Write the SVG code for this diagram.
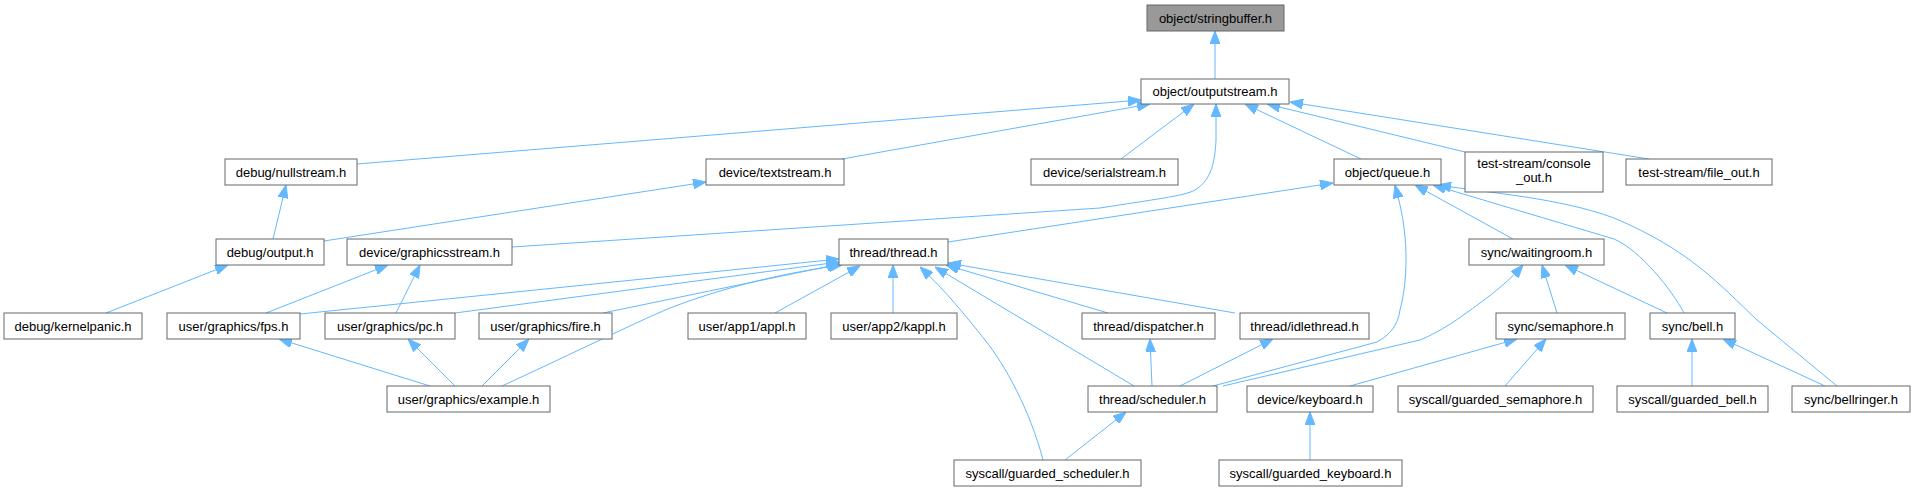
<svg xmlns="http://www.w3.org/2000/svg" width="1915" height="491" viewBox="0 0 1915 491">
<style>
.n rect{fill:#ffffff;stroke:#666666;stroke-width:1}
.n.root rect{fill:#999999}
.n text{font-family:"Liberation Sans",Arial,Helvetica,sans-serif;font-size:13px;fill:#000000;text-anchor:middle}
.e path{fill:none;stroke:#63b8ff;stroke-width:1;marker-end:url(#ah)}
</style>
<defs>
<marker id="ah" markerUnits="userSpaceOnUse" viewBox="0 0 13 10" markerWidth="13" markerHeight="10" refX="13" refY="5" orient="auto">
<path d="M0,0 L13,5 L0,10 z" fill="#63b8ff" stroke="#63b8ff" stroke-width="1"/>
</marker>
</defs>
<rect width="1915" height="491" fill="#ffffff"/>
<g id="edges" class="e">
<path d="M1215,79 L1215,31"/>
<path d="M357,164 L1141,100"/>
<path d="M842,159 L1150,104"/>
<path d="M324,241 L706,182"/>
<path d="M273,239 L286,185"/>
<path d="M106,313 L228,265"/>
<path d="M512,247 L1100,208 C1150,200 1185,196 1195,190 C1212,180 1215,160 1216,140 L1216,104"/>
<path d="M1121,159 L1194,104"/>
<path d="M1361,159 L1245,104"/>
<path d="M1465,152 L1267,104"/>
<path d="M1649,159 L1290,102"/>
<path d="M948,242 L1333,183"/>
<path d="M1213,386 L1377,342 C1390,335 1398,325 1400,310 C1408,280 1408,240 1400,205 L1395,185"/>
<path d="M1223,386 L1420,340 C1440,332 1460,318 1480,303 C1495,292 1510,280 1523,265"/>
<path d="M1513,239 L1415,185"/>
<path d="M1684,313 C1672,290 1640,250 1614,239 L1433,185"/>
<path d="M1837,386 L1757,320 C1720,285 1690,250 1614,218 C1560,198 1490,193 1438,185"/>
<path d="M300,314 L839,259"/>
<path d="M455,313 L839,262"/>
<path d="M603,313 L840,264"/>
<path d="M502,386 C580,350 630,325 670,308 C730,285 790,272 842,265"/>
<path d="M775,313 L860,266"/>
<path d="M893,313 L893,265"/>
<path d="M1043,460 C1030,410 1005,365 985,340 C965,315 945,290 920,267"/>
<path d="M1134,386 L935,267"/>
<path d="M1108,313 L946,265"/>
<path d="M1235,313 L948,263"/>
<path d="M266,313 L388,265"/>
<path d="M396,313 L420,265"/>
<path d="M430,386 L279,339"/>
<path d="M455,386 L408,339"/>
<path d="M482,386 L529,339"/>
<path d="M1152,386 L1150,339"/>
<path d="M1180,386 L1273,339"/>
<path d="M1065,460 L1126,412"/>
<path d="M1350,386 L1517,339"/>
<path d="M1505,386 L1546,339"/>
<path d="M1310,460 L1310,412"/>
<path d="M1557,313 L1542,265"/>
<path d="M1667,313 L1565,265"/>
<path d="M1692,386 L1692,339"/>
<path d="M1825,386 L1723,339"/>
</g>
<g id="stringbuffer" class="n root"><rect x="1147" y="5" width="137" height="26"/><text x="1215.5" y="22.5">object/stringbuffer.h</text></g>
<g id="outputstream" class="n"><rect x="1141" y="79" width="148" height="25"/><text x="1215" y="96">object/outputstream.h</text></g>
<g id="nullstream" class="n"><rect x="225" y="159" width="132" height="26"/><text x="291" y="176.5">debug/nullstream.h</text></g>
<g id="textstream" class="n"><rect x="706" y="159" width="138" height="26"/><text x="775" y="176.5">device/textstream.h</text></g>
<g id="serialstream" class="n"><rect x="1031" y="159" width="147" height="26"/><text x="1104.5" y="176.5">device/serialstream.h</text></g>
<g id="queue" class="n"><rect x="1334" y="159" width="107" height="26"/><text x="1387.5" y="176.5">object/queue.h</text></g>
<g id="console_out" class="n"><rect x="1465" y="152" width="138" height="40"/><text x="1534" y="168">test-stream/console</text><text x="1534" y="182">_out.h</text></g>
<g id="file_out" class="n"><rect x="1626" y="159" width="146" height="26"/><text x="1699" y="176.5">test-stream/file_out.h</text></g>
<g id="output" class="n"><rect x="216" y="239" width="108" height="26"/><text x="270" y="256.5">debug/output.h</text></g>
<g id="graphicsstream" class="n"><rect x="347" y="239" width="165" height="26"/><text x="429.5" y="256.5">device/graphicsstream.h</text></g>
<g id="thread" class="n"><rect x="839" y="239" width="109" height="26"/><text x="893.5" y="256.5">thread/thread.h</text></g>
<g id="waitingroom" class="n"><rect x="1469" y="239" width="135" height="26"/><text x="1536.5" y="256.5">sync/waitingroom.h</text></g>
<g id="kernelpanic" class="n"><rect x="4" y="313" width="138" height="26"/><text x="73" y="330.5">debug/kernelpanic.h</text></g>
<g id="fps" class="n"><rect x="167" y="313" width="133" height="26"/><text x="233.5" y="330.5">user/graphics/fps.h</text></g>
<g id="pc" class="n"><rect x="325" y="313" width="130" height="26"/><text x="390" y="330.5">user/graphics/pc.h</text></g>
<g id="fire" class="n"><rect x="479" y="313" width="133" height="26"/><text x="545.5" y="330.5">user/graphics/fire.h</text></g>
<g id="appl" class="n"><rect x="688" y="313" width="118" height="26"/><text x="747" y="330.5">user/app1/appl.h</text></g>
<g id="kappl" class="n"><rect x="831" y="313" width="126" height="26"/><text x="894" y="330.5">user/app2/kappl.h</text></g>
<g id="dispatcher" class="n"><rect x="1082" y="313" width="133" height="26"/><text x="1148.5" y="330.5">thread/dispatcher.h</text></g>
<g id="idlethread" class="n"><rect x="1240" y="313" width="129" height="26"/><text x="1304.5" y="330.5">thread/idlethread.h</text></g>
<g id="semaphore" class="n"><rect x="1496" y="313" width="129" height="26"/><text x="1560.5" y="330.5">sync/semaphore.h</text></g>
<g id="bell" class="n"><rect x="1650" y="313" width="85" height="26"/><text x="1692.5" y="330.5">sync/bell.h</text></g>
<g id="example" class="n"><rect x="387" y="386" width="163" height="26"/><text x="468.5" y="403.5">user/graphics/example.h</text></g>
<g id="scheduler" class="n"><rect x="1088" y="386" width="129" height="26"/><text x="1152.5" y="403.5">thread/scheduler.h</text></g>
<g id="keyboard" class="n"><rect x="1247" y="386" width="126" height="26"/><text x="1310" y="403.5">device/keyboard.h</text></g>
<g id="guarded_semaphore" class="n"><rect x="1398" y="386" width="195" height="26"/><text x="1495.5" y="403.5">syscall/guarded_semaphore.h</text></g>
<g id="guarded_bell" class="n"><rect x="1617" y="386" width="151" height="26"/><text x="1692.5" y="403.5">syscall/guarded_bell.h</text></g>
<g id="bellringer" class="n"><rect x="1792" y="386" width="118" height="26"/><text x="1851" y="403.5">sync/bellringer.h</text></g>
<g id="guarded_scheduler" class="n"><rect x="954" y="460" width="187" height="26"/><text x="1047.5" y="477.5">syscall/guarded_scheduler.h</text></g>
<g id="guarded_keyboard" class="n"><rect x="1219" y="460" width="183" height="26"/><text x="1310.5" y="477.5">syscall/guarded_keyboard.h</text></g>
</svg>
